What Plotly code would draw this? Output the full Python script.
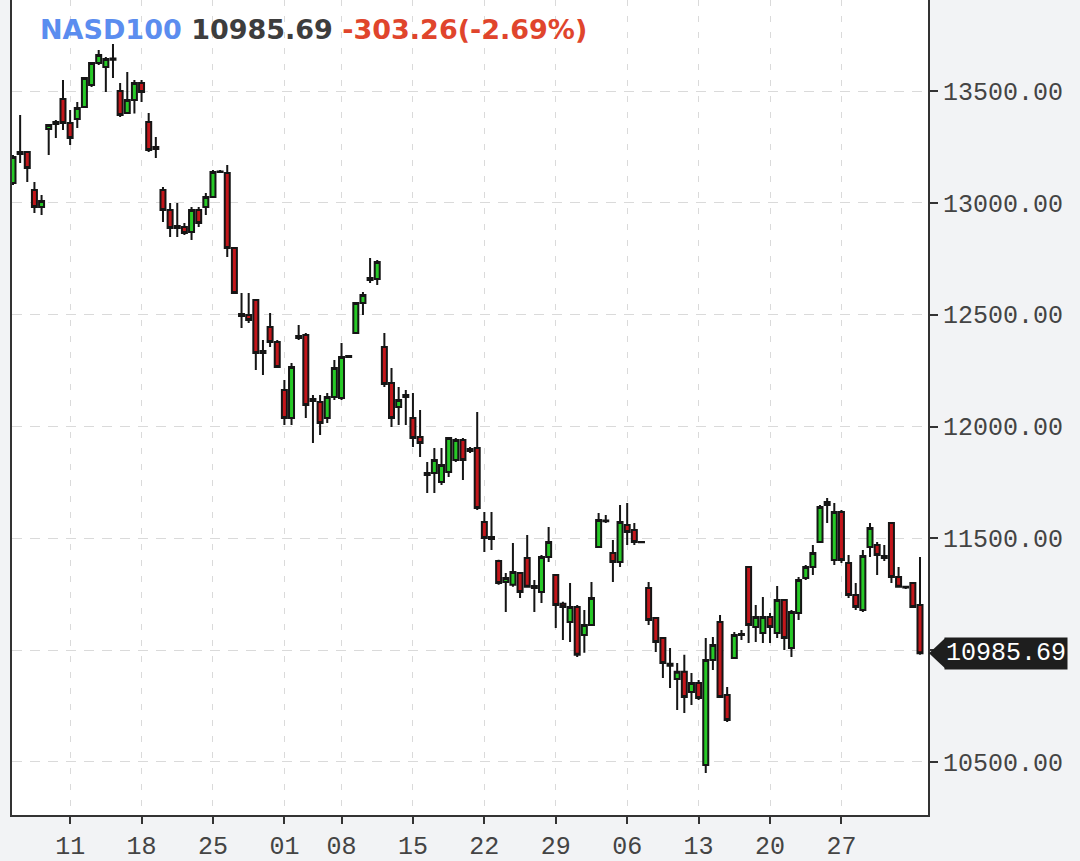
import pandas as pd
import plotly.graph_objects as go

# ---------------- data (two sessions per trading day) ----------------
symbol = "NASD100"
change = -303.26
change_pct = -2.69

opens = [13089, 13218, 13227, 13057, 12981, 13330, 13353, 13464, 13357, 13375,
         13429, 13527, 13625, 13607, 13645, 13500, 13402, 13460, 13536, 13361,
         13250, 13057, 12968, 12897, 12892, 12870, 12968, 12981, 13026, 13138,
         13133, 12798, 12503, 12499, 12566, 12338, 12445, 12378, 12163, 12038,
         12396, 12409, 12123, 12110, 12038, 12132, 12128, 12311, 12418, 12552,
         12655, 12660, 12356, 12195, 12087, 12141, 12038, 11953, 11792, 11792,
         11752, 11797, 11850, 11940, 11900, 11904, 11573, 11506, 11399, 11305,
         11292, 11345, 11412, 11287, 11260, 11417, 11336, 11207, 11126, 11193,
         11068, 11113, 11461, 11580, 11435, 11394, 11560, 11537, 11484, 11278,
         11144, 11054, 10939, 10871, 10903, 10813, 10853, 10487, 10956, 11126,
         10800, 10965, 11068, 11372, 11104, 11077, 11148, 11077, 11224, 11010,
         11166, 11323, 11372, 11484, 11649, 11403, 11618, 11390, 11247, 11180,
         11461, 11470, 11421, 11569, 11327, 11283, 11300, 11202]
highs = [13214, 13393, 13232, 13093, 13035, 13350, 13370, 13549, 13415, 13451,
         13563, 13630, 13683, 13652, 13710, 13536, 13585, 13549, 13549, 13402,
         13295, 13071, 12999, 12999, 12910, 12981, 12981, 13044, 13147, 13147,
         13169, 12800, 12597, 12597, 12570, 12387, 12508, 12387, 12208, 12284,
         12454, 12418, 12141, 12141, 12150, 12297, 12373, 12320, 12557, 12601,
         12753, 12745, 12418, 12262, 12177, 12163, 12150, 12074, 11841, 11904,
         11904, 11953, 11949, 11949, 11908, 12065, 11618, 11618, 11404, 11345,
         11479, 11350, 11515, 11314, 11426, 11551, 11340, 11216, 11300, 11202,
         11180, 11305, 11613, 11604, 11493, 11649, 11658, 11569, 11488, 11305,
         11146, 11059, 11010, 10943, 10979, 10898, 10867, 11054, 11059, 11157,
         10835, 11081, 11090, 11375, 11202, 11238, 11166, 11287, 11228, 11180,
         11327, 11381, 11470, 11649, 11680, 11658, 11627, 11426, 11300, 11448,
         11569, 11484, 11470, 11570, 11372, 11288, 11302, 11417]
lows = [13080, 13178, 13093, 12955, 12946, 13214, 13290, 13326, 13259, 13335,
        13424, 13518, 13616, 13496, 13558, 13384, 13400, 13400, 13451, 13227,
        13201, 12914, 12847, 12847, 12856, 12834, 12892, 12946, 13024, 13133,
        12758, 12595, 12440, 12463, 12253, 12230, 12356, 12264, 12007, 12007,
        12387, 12038, 11926, 11962, 12016, 12119, 12119, 12306, 12418, 12499,
        12642, 12633, 12177, 11998, 12007, 12007, 11908, 11864, 11703, 11703,
        11739, 11774, 11841, 11761, 11882, 11627, 11439, 11448, 11292, 11171,
        11283, 11233, 11280, 11171, 11211, 11394, 11099, 11046, 11037, 10970,
        10988, 11110, 11457, 11569, 11305, 11372, 11470, 11470, 11480, 11113,
        10992, 10876, 10831, 10733, 10719, 10755, 10777, 10451, 10911, 10788,
        10679, 10962, 11046, 11032, 11037, 11032, 11032, 11054, 11001, 10970,
        11135, 11314, 11336, 11482, 11569, 11381, 11390, 11233, 11180, 11171,
        11417, 11336, 11399, 11300, 11280, 11274, 11188, 10979]
closes = [13205, 13227, 13156, 12981, 13008, 13348, 13361, 13357, 13290, 13424,
          13558, 13625, 13661, 13643, 13640, 13393, 13460, 13536, 13496, 13236,
          13241, 12968, 12888, 12888, 12865, 12968, 12910, 13026, 13138, 13140,
          12798, 12597, 12494, 12476, 12329, 12329, 12378, 12266, 12038, 12266,
          12405, 12096, 12114, 12016, 12132, 12262, 12311, 12315, 12552, 12588,
          12664, 12736, 12190, 12038, 12119, 12132, 11949, 11926, 11783, 11850,
          11828, 11949, 11940, 11850, 11891, 11636, 11502, 11497, 11300, 11323,
          11350, 11260, 11283, 11278, 11417, 11484, 11202, 11193, 11193, 10979,
          11113, 11233, 11582, 11576, 11394, 11573, 11528, 11484, 11482, 11135,
          11037, 10943, 10930, 10903, 10791, 10853, 10786, 10956, 11023, 10791,
          10688, 11068, 11072, 11113, 11148, 11148, 11104, 11224, 11054, 11171,
          11314, 11372, 11435, 11640, 11663, 11618, 11403, 11247, 11193, 11421,
          11546, 11426, 11412, 11327, 11283, 11280, 11193, 10985.69]

first_day = "2022-08-05"
last_day = "2022-11-03"
holidays = ["2022-09-05"]
sessions = ["AM", "PM"]
tick_dates = ["2022-08-11", "2022-08-18", "2022-08-25", "2022-09-01", "2022-09-08",
              "2022-09-15", "2022-09-22", "2022-09-29", "2022-10-06", "2022-10-13",
              "2022-10-20", "2022-10-27"]
y_ticks = [10500, 11000, 11500, 12000, 12500, 13000, 13500]

# ---------------- build axis categories ----------------
days = [d for d in pd.bdate_range(first_day, last_day)
        if d.strftime("%Y-%m-%d") not in holidays]
x_cat = [f"{d:%Y-%m-%d} {s}" for d in days for s in sessions][:len(opens)]
tick_vals = [f"{t} {sessions[0]}" for t in tick_dates]
tick_text = [t[-2:] for t in tick_dates]

last = closes[-1]
# the price tag covers any y label that sits right under it
y_text = ["" if abs(v - last) < 70 else f"{v:.2f}" for v in y_ticks]

GREEN = "#27c927"
RED = "#c3161b"
OUT = "#151515"
MONO = "Liberation Mono"
PAGE_BG = "#f2f3f5"

fig = go.Figure(go.Candlestick(
    x=x_cat, open=opens, high=highs, low=lows, close=closes,
    increasing=dict(fillcolor=GREEN, line=dict(color=OUT, width=2)),
    decreasing=dict(fillcolor=RED, line=dict(color=OUT, width=2)),
    whiskerwidth=0, showlegend=False,
))

fig.update_layout(
    width=1080, height=861,
    margin=dict(l=12, r=152, t=0, b=46),
    paper_bgcolor=PAGE_BG, plot_bgcolor="#ffffff",
    showlegend=False, boxgap=0.3, boxgroupgap=0,
)
fig.update_xaxes(
    type="category", range=[-0.14, len(opens) + 0.12],
    tickmode="array", tickvals=tick_vals, ticktext=tick_text,
    ticks="outside", ticklen=7, tickwidth=2, tickcolor="#333",
    showline=True, linecolor="#333", linewidth=2,
    showgrid=True, gridcolor="#dadada", griddash="6px,10px", gridwidth=1,
    tickfont=dict(family=MONO, size=25, color="#444"),
    rangeslider=dict(visible=False),
)
fig.update_yaxes(
    side="right", range=[10263, 13907],
    tickmode="array", tickvals=y_ticks, ticktext=y_text,
    ticks="outside", ticklen=8, tickwidth=2, tickcolor="#333",
    showline=True, linecolor="#333", linewidth=2, mirror=True,
    showgrid=True, gridcolor="#dadada", griddash="10px,8px", gridwidth=1,
    tickfont=dict(family=MONO, size=25, color="#444"),
    zeroline=False,
)

header = (f"<span style='color:#5b8def'>{symbol}</span> "
          f"<span style='color:#3d3d3d'>{last:.2f}</span> "
          f"<span style='color:#e0452c'>{change:.2f}({change_pct:.2f}%)</span>")
fig.add_annotation(
    xref="paper", yref="paper", x=0.028, y=0.9644, xanchor="left", yanchor="middle",
    text=f"<b>{header}</b>", showarrow=False,
    font=dict(family="DejaVu Sans", size=27),
)

# current price tag
fig.add_shape(
    type="path", xref="paper", yref="y",
    xsizemode="pixel", xanchor=1, ysizemode="pixel", yanchor=last,
    path="M 1,0 L 17,15 L 17,-15 Z",
    fillcolor="#1e1e1e", line=dict(width=0), layer="above",
)
fig.add_annotation(
    xref="paper", yref="y", x=1, y=last, xanchor="left", yanchor="middle",
    xshift=16, text=f"{last:.2f}", showarrow=False,
    bgcolor="#1e1e1e", borderpad=1,
    font=dict(family=MONO, size=25, color="#ffffff"),
)

fig.write_html(
    "out.html",
    config={"displayModeBar": False},
    post_script=f"document.body.style.margin='0px';"
                f"document.body.style.background='{PAGE_BG}';",
)
